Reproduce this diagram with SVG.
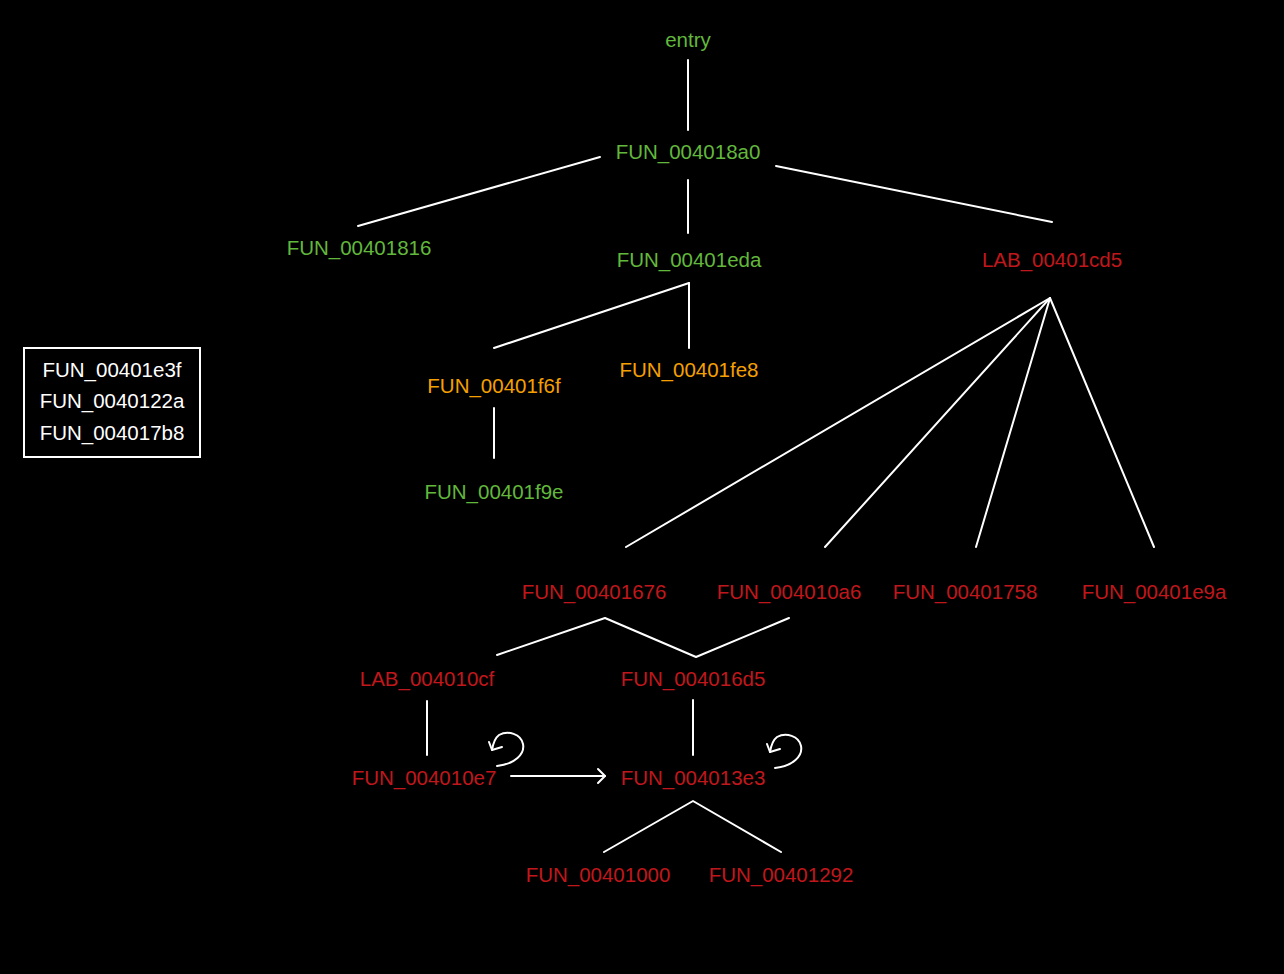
<svg xmlns="http://www.w3.org/2000/svg" width="1284" height="974" viewBox="0 0 1284 974">
<style>
text{font-family:"Liberation Sans","Noto Sans",Arial,sans-serif;font-size:20.5px;text-anchor:middle}
.g{fill:#62b83c}.r{fill:#c0171c}.o{fill:#f5a000}.w{fill:#ffffff}
.e{stroke:#ffffff;stroke-width:2;fill:none;stroke-linecap:round;stroke-linejoin:round}
</style>
<rect width="1284" height="974" fill="#000000"/>
<g id="connectors" class="e">
<line x1="688" y1="60" x2="688" y2="130"/>
<line x1="600" y1="157" x2="358" y2="226"/>
<line x1="688" y1="180" x2="688" y2="233"/>
<line x1="776" y1="166" x2="1052" y2="222"/>
<line x1="689" y1="283" x2="494" y2="348"/>
<line x1="689" y1="283" x2="689" y2="348"/>
<line x1="494" y1="408" x2="494" y2="458"/>
<line x1="1050" y1="298" x2="626" y2="547"/>
<line x1="1050" y1="298" x2="825" y2="547"/>
<line x1="1050" y1="298" x2="976" y2="547"/>
<line x1="1050" y1="298" x2="1154" y2="547"/>
<polyline points="497,655 605,618 696,657 789,618"/>
<line x1="427" y1="701" x2="427" y2="755"/>
<line x1="693" y1="700" x2="693" y2="755"/>
<line x1="511" y1="776" x2="605" y2="776"/>
<polyline points="598,769 605,776 598,783"/>
<polyline points="604,852 693,801 781,852"/>
<path d="M497,766 C515,764 525,754 523,744 C521,734 508,730 499,735 C495,738 493,744 492,750"/>
<polyline points="489,742 492,750 502,747"/>
<path d="M775,768 C793,766 803,756 801,746 C799,736 786,732 777,737 C773,740 771,746 770,752"/>
<polyline points="767,744 770,752 780,749"/>
</g>
<g id="entry"><text class="g" x="688" y="47">entry</text></g>
<g id="FUN_004018a0"><text class="g" x="688" y="159">FUN_004018a0</text></g>
<g id="FUN_00401816"><text class="g" x="359" y="255">FUN_00401816</text></g>
<g id="FUN_00401eda"><text class="g" x="689" y="267">FUN_00401eda</text></g>
<g id="LAB_00401cd5"><text class="r" x="1052" y="267">LAB_00401cd5</text></g>
<g id="FUN_00401f6f"><text class="o" x="494" y="393">FUN_00401f6f</text></g>
<g id="FUN_00401fe8"><text class="o" x="689" y="377">FUN_00401fe8</text></g>
<g id="FUN_00401f9e"><text class="g" x="494" y="499">FUN_00401f9e</text></g>
<g id="FUN_00401676"><text class="r" x="594" y="599">FUN_00401676</text></g>
<g id="FUN_004010a6"><text class="r" x="789" y="599">FUN_004010a6</text></g>
<g id="FUN_00401758"><text class="r" x="965" y="599">FUN_00401758</text></g>
<g id="FUN_00401e9a"><text class="r" x="1154" y="599">FUN_00401e9a</text></g>
<g id="LAB_004010cf"><text class="r" x="427" y="686">LAB_004010cf</text></g>
<g id="FUN_004016d5"><text class="r" x="693" y="686">FUN_004016d5</text></g>
<g id="FUN_004010e7"><text class="r" x="424" y="785">FUN_004010e7</text></g>
<g id="FUN_004013e3"><text class="r" x="693" y="785">FUN_004013e3</text></g>
<g id="FUN_00401000"><text class="r" x="598" y="882">FUN_00401000</text></g>
<g id="FUN_00401292"><text class="r" x="781" y="882">FUN_00401292</text></g>
<g id="legend">
<rect x="24" y="348" width="176" height="109" fill="none" stroke="#ffffff" stroke-width="2"/>
<text class="w" x="112" y="377">FUN_00401e3f</text>
<text class="w" x="112" y="408">FUN_0040122a</text>
<text class="w" x="112" y="440">FUN_004017b8</text>
</g>
</svg>
